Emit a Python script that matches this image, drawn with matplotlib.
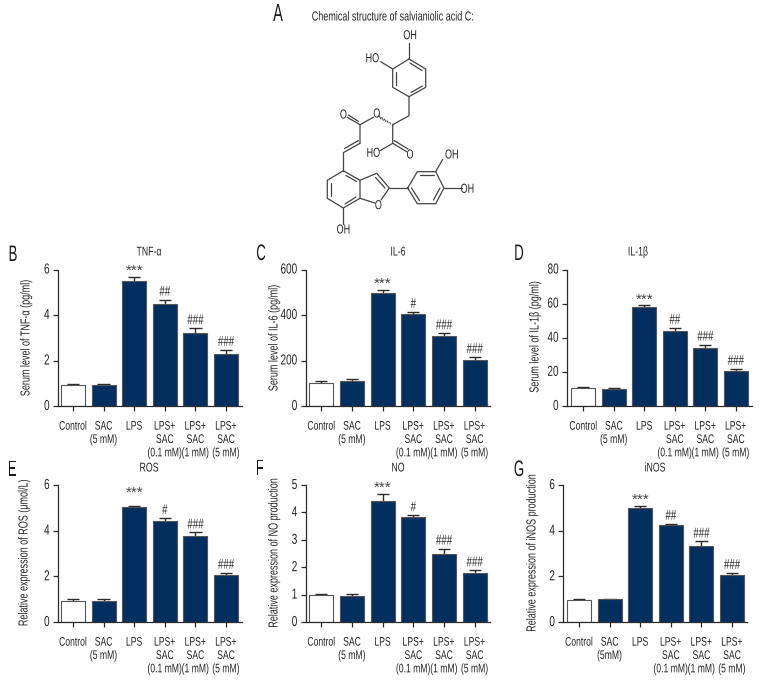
import matplotlib
matplotlib.use('Agg')
import matplotlib.pyplot as plt
import matplotlib.patheffects as pe
from matplotlib.transforms import Affine2D

plt.rcParams['font.family'] = ['Liberation Sans', 'DejaVu Sans']

W, H = 768, 684
NAVY = '#032f5f'
DARK = '#2b2b2b'
TXT = '#262626'

labels = ['Control', 'SAC\n(5 mM)', 'LPS', 'LPS+\nSAC\n(0.1 mM)', 'LPS+\nSAC\n(1 mM)', 'LPS+\nSAC\n(5 mM)']
labels_g = ['Control', 'SAC\n(5mM)', 'LPS', 'LPS+\nSAC\n(0.1 mM)', 'LPS+\nSAC\n(1 mM)', 'LPS+\nSAC\n(5 mM)']

# bar heights and top of error bar
tnf = [0.93, 0.94, 5.5, 4.5, 3.2, 2.27]
tnf_err = [0.98, 0.98, 5.67, 4.68, 3.42, 2.47]
il6 = [103, 108, 497, 404, 309, 204]
il6_err = [108, 119, 510, 414, 320, 215]
il1b = [10.3, 10, 58.3, 43.8, 34, 20.8]
il1b_err = [11, 10.5, 59, 45.8, 36, 21.8]
ros = [0.9, 0.94, 5.03, 4.43, 3.76, 2.08]
ros_err = [1.0, 0.99, 5.1, 4.55, 3.92, 2.16]
no = [1.0, 0.95, 4.42, 3.82, 2.47, 1.8]
no_err = [1.04, 1.03, 4.67, 3.9, 2.68, 1.89]
inos = [0.95, 1.0, 5.0, 4.27, 3.33, 2.08]
inos_err = [0.99, 1.02, 5.1, 4.31, 3.53, 2.15]

sig_b = ['', '', '***', '##', '###', '###']
sig_c = ['', '', '***', '#', '###', '###']
sig_d = ['', '', '***', '##', '###', '###']
sig_e = ['', '', '***', '#', '###', '###']
sig_f = ['', '', '***', '#', '###', '###']
sig_g = ['', '', '***', '##', '###', '###']


class Tall(pe.AbstractPathEffect):
    """stretch glyphs upward from the baseline, the original uses a condensed face"""

    def __init__(self, sy):
        super().__init__()
        self.sy = sy

    def draw_path(self, renderer, gc, tpath, affine, rgbFace=None):
        renderer.draw_path(gc, tpath, Affine2D().scale(1, self.sy) + affine, rgbFace)


NARROW = [Tall(1.45)]
LETTER = [Tall(1.7)]


# px -> figure fraction
def fx(x):
    return x / W


def fy(y):
    return 1 - y / H


fig = plt.figure(figsize=(W / 100, H / 100), dpi=100, facecolor='white')


def panel(box, vals, errs, sig, yticks, xlabs, title, tpos, ylabel, ypos, letter, lpos, star_gap=6):
    """box is axis x, first bar, bar spacing, right end, y of zero, y of top (px)"""
    x0, c0, step, x1, y0, y1 = box
    ax = fig.add_axes([fx(x0), fy(y0), (x1 - x0) / W, (y0 - y1) / H])
    ax.patch.set_alpha(0)
    ax.set_xlim((x0 - c0) / step, (x1 - c0) / step)
    ax.set_ylim(yticks[0], yticks[-1])
    xs = list(range(len(vals)))
    colors = ['white'] + [NAVY] * (len(vals) - 1)
    for x, v, e in zip(xs, vals, errs):
        ax.plot([x, x], [v, e], color=DARK, lw=1.0, solid_capstyle='butt', zorder=1)
        ax.plot([x - 0.2, x + 0.2], [e, e], color=DARK, lw=1.0, solid_capstyle='butt', zorder=1)
    ax.bar(xs, vals, width=0.79, color=colors, edgecolor='#555555', linewidth=0.8, zorder=2)
    for x, e, s in zip(xs, errs, sig):
        if s == '':
            continue
        if s == '***':
            ax.annotate(s, (x, e), xytext=(0, star_gap * 0.72), textcoords='offset points',
                        ha='center', va='center', fontsize=11, color='#444444')
        else:
            t = ax.annotate(s, (x, e), xytext=(0, 7 * 0.72), textcoords='offset points',
                            ha='center', va='center', fontsize=7, color=TXT)
            t.set_path_effects(NARROW)
    for side in ['top', 'right']:
        ax.spines[side].set_visible(False)
    for side in ['left', 'bottom']:
        ax.spines[side].set_linewidth(0.9)
        ax.spines[side].set_color(DARK)
    ax.set_yticks(yticks)
    ax.set_xticks(xs)
    ax.set_xticklabels(xlabs, linespacing=1.62, fontsize=6.2, color=TXT)
    ax.tick_params(axis='x', length=3.5, width=0.9, pad=8.5, color=DARK)
    ax.tick_params(axis='y', length=3.5, width=0.9, pad=2.5, labelsize=7.2, labelcolor=TXT, color=DARK)
    for t in ax.get_xticklabels() + ax.get_yticklabels():
        t.set_path_effects(NARROW)
    t = fig.text(fx(tpos[0]), fy(tpos[1]), title, ha='center', va='center', fontsize=6.3, color=TXT)
    t.set_path_effects(NARROW)
    t = fig.text(fx(ypos[0]), fy(ypos[1]), ylabel, rotation=90, ha='center', va='center', fontsize=6.5, color=TXT)
    t.set_path_effects(NARROW)
    t = fig.text(fx(lpos[0]), fy(lpos[1]), letter, ha='center', va='center', fontsize=9.5, color='#1a1a1a')
    t.set_path_effects(LETTER)
    return ax


panel((58, 73, 30.6, 242, 406, 269.5), tnf, tnf_err, sig_b, [0, 2, 4, 6], labels, 'TNF-α', (149, 253),
      'Serum level of TNF-α (pg/ml)', (27, 338), 'B', (13, 258))
panel((305.7, 321.3, 30.67, 490, 406, 269.5), il6, il6_err, sig_c, [0, 200, 400, 600], labels, 'IL-6', (398, 253),
      'Serum level of IL-6 (pg/ml)', (275, 338), 'C', (261, 257))
panel((567, 583.3, 30.5, 752, 406, 269.5), il1b, il1b_err, sig_d, [0, 20, 40, 60, 80], labels, 'IL-1β', (638, 253),
      'Serum level of IL-1β (pg/ml)', (536, 337), 'D', (519, 257))
panel((58, 73, 30.6, 242, 622, 485), ros, ros_err, sig_e, [0, 2, 4, 6], labels, 'ROS', (149, 469),
      'Relative expression of ROS (μmol/L)', (25, 553), 'E', (12, 473), star_gap=13)
panel((305.7, 321.3, 30.67, 490, 622, 485), no, no_err, sig_f, [0, 1, 2, 3, 4, 5], labels, 'NO', (398, 469),
      'Relative expression of NO production', (275, 553), 'F', (260, 472))
panel((563.3, 579, 30.6, 747.3, 622, 485), inos, inos_err, sig_g, [0, 2, 4, 6], labels_g, 'iNOS', (655, 469),
      'Relative expression of iNOS production', (533, 553), 'G', (519, 473))

t = fig.text(fx(278), fy(17), 'A', ha='center', va='center', fontsize=10.5, color='#1a1a1a')
t.set_path_effects(LETTER)
t = fig.text(fx(393), fy(18), 'Chemical structure of salvianiolic acid C:', ha='center', va='center', fontsize=6.5, color=TXT)
t.set_path_effects(NARROW)

# structure drawing, in pixel coordinates of the figure
ring_top = [(409, 59), (425.7, 69), (425.7, 87.3), (409, 96.7), (392.7, 87.3), (392.7, 69), (409, 59)]
ring_benzo = [(343.3, 170.7), (360, 180.3), (360, 198.3), (343.3, 208), (327.3, 198.3), (327.3, 180.3), (343.3, 170.7)]
ring_right = [(407.7, 188), (417.3, 171.7), (435.7, 171.7), (444, 188), (435.7, 203.7), (417.3, 203.7), (407.7, 188)]
furan = [(360, 180.3), (376.7, 173.3), (389.3, 188), (381, 200)]
furan_o = [(375, 203), (360, 198.3)]
single_bonds = [
    [(409, 59), (409, 43)], [(392.7, 69), (380.7, 61.7)],
    [(409, 96.7), (409, 115.7), (392.7, 124.7)],
    [(373.3, 117.3), (360, 124.7), (360, 143.3)],
    [(343.3, 152.7), (343.3, 170.7)], [(343.3, 208), (343.3, 224)],
    [(392.7, 124.7), (392.7, 143.3), (380, 150.7)],
    [(389.3, 188), (407.7, 188)], [(435.7, 171.7), (442.7, 159.3)], [(444, 188), (461.7, 188)],
]
inner_bonds = [
    [(410, 63), (422, 70.5)], [(396, 71.5), (396, 85)], [(411, 92.5), (422.4, 86)],
    [(346, 175.5), (356.5, 181.5)], [(330.8, 183), (330.8, 195.5)], [(345, 204), (356, 197)],
    [(420, 175.3), (433.5, 175.3)], [(440, 188), (433.5, 200)], [(411.5, 188), (419.5, 200.5)],
    [(375.5, 177.5), (385, 188)],
    [(358.5, 140.5), (344.5, 148.5)], [(360, 143.3), (343.3, 152.7)],
    [(360, 124.7), (347.3, 117.3)], [(358.5, 121.5), (348.5, 115)],
    [(392.7, 143.3), (406.7, 151.7)], [(394, 140.5), (408, 149)],
]
atom_labels = [('OH', 410, 36.7), ('HO', 372.3, 59.7), ('O', 376.7, 115), ('O', 343.3, 116), ('HO', 373.3, 154.3),
               ('O', 410, 156), ('OH', 451.7, 156), ('OH', 467.3, 190.3), ('O', 378.3, 206.7), ('OH', 343.3, 231)]
hash_start = (392.7, 124.7)
hash_end = (380, 117.3)

over = fig.add_axes([0, 0, 1, 1], zorder=-1)
over.set_xlim(0, W)
over.set_ylim(H, 0)
over.axis('off')
for pts in [ring_top, ring_benzo, ring_right, furan, furan_o] + single_bonds + inner_bonds:
    over.plot([p[0] for p in pts], [p[1] for p in pts], color='#444444', lw=0.9, solid_capstyle='round')
for i in range(6):
    t = i / 5
    mx = hash_start[0] + (hash_end[0] - hash_start[0]) * t
    my = hash_start[1] + (hash_end[1] - hash_start[1]) * t
    half = 0.4 + 1.6 * t
    over.plot([mx - 0.5 * half, mx + 0.5 * half], [my - 0.87 * half, my + 0.87 * half], color='#444444', lw=0.7)
for s, x, y in atom_labels:
    txt = over.text(x, y, s, ha='center', va='center', fontsize=6.5, color=TXT)
    txt.set_path_effects(NARROW)

fig.savefig('out.png', dpi=100)
